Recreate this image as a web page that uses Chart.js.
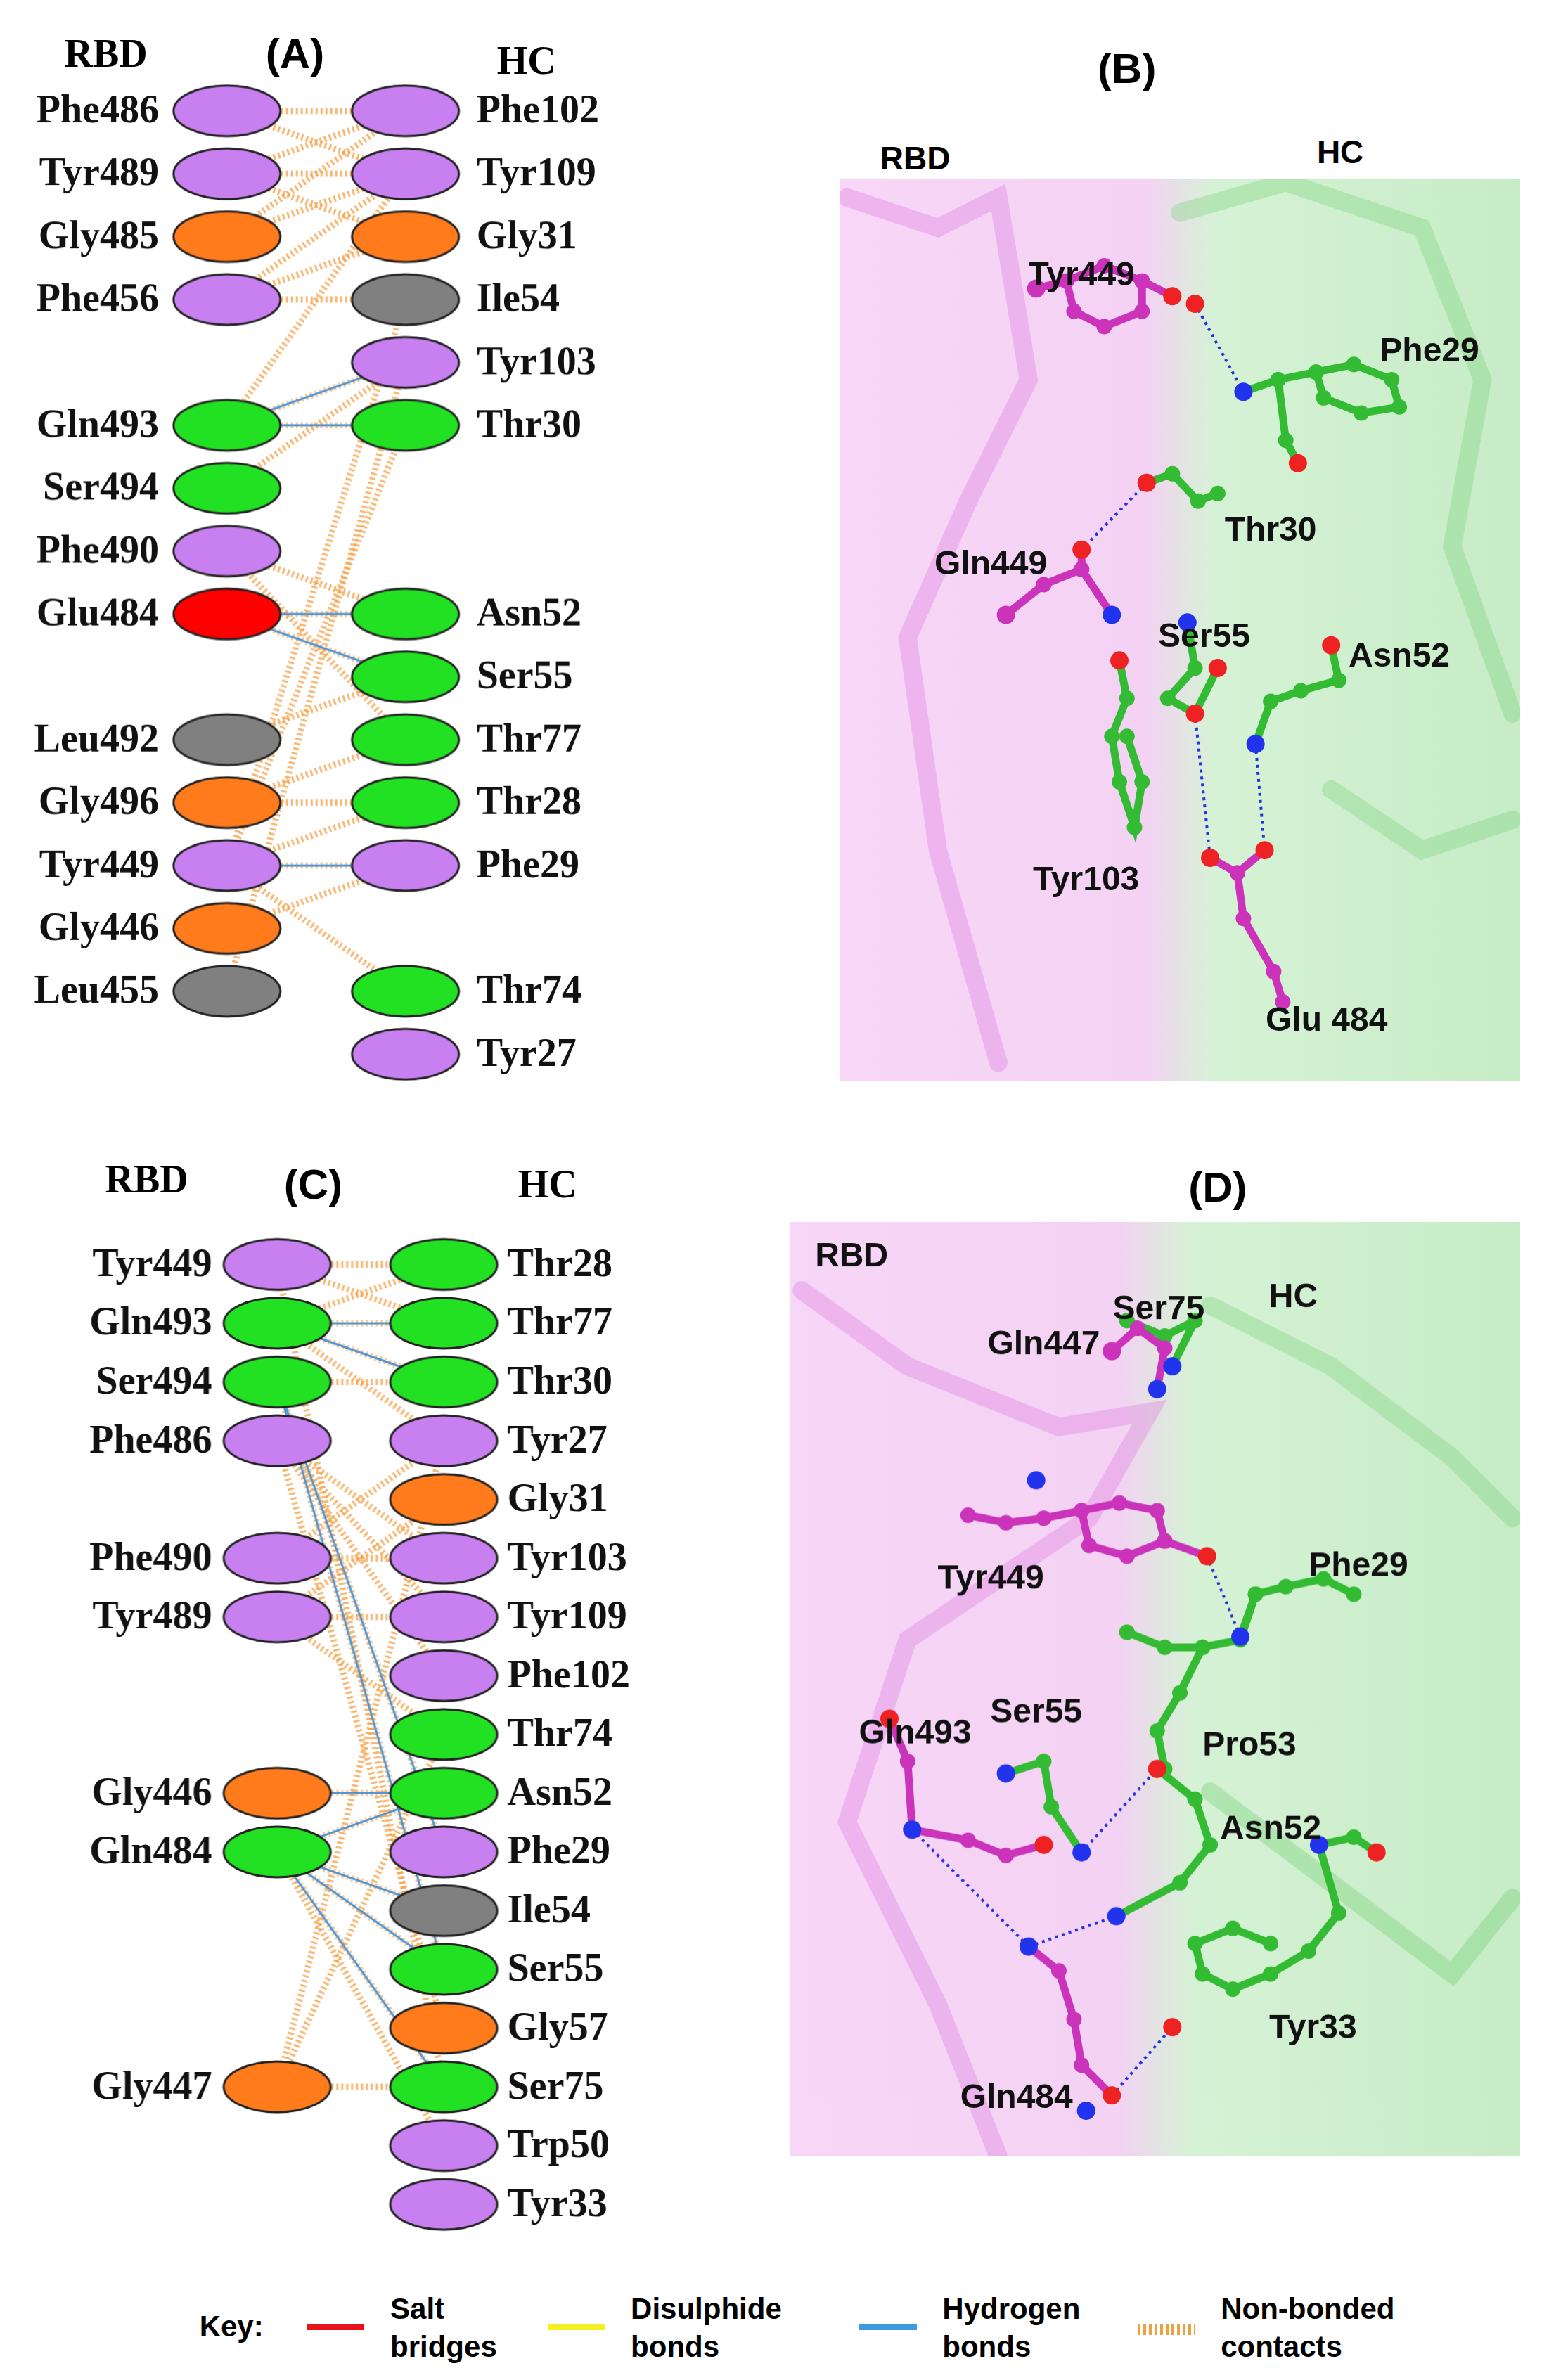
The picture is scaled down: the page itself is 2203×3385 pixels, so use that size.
<!DOCTYPE html>
<html><head><meta charset="utf-8">
<script src="https://cdn.jsdelivr.net/npm/chart.js@4/dist/chart.umd.min.js"></script>
<style>
body{margin:0;background:#fff;width:2203px;height:3385px;position:relative;overflow:hidden}
.c{position:absolute}
.t{position:absolute;font-weight:bold;white-space:nowrap}
.serif{font-family:"Liberation Serif",serif}
.sans{font-family:"Liberation Sans",Arial,sans-serif}
</style></head><body>
<script>
// ---------- DATA ----------
const colA_left  = ["Phe486","Tyr489","Gly485","Phe456","","Gln493","Ser494","Phe490","Glu484","","Leu492","Gly496","Tyr449","Gly446","Leu455"];
const colA_leftType = ["P","P","O","P","","G","G","P","R","","K","O","P","O","K"];
const colA_right = ["Phe102","Tyr109","Gly31","Ile54","Tyr103","Thr30","","","Asn52","Ser55","Thr77","Thr28","Phe29","","Thr74","Tyr27"];
const colA_rightType = ["P","P","O","K","P","G","","","G","G","G","G","P","","G","P"];
const linksA = [
 ["Phe486","Phe102","nb"],["Phe486","Tyr109","nb"],["Tyr489","Phe102","nb"],["Tyr489","Tyr109","nb"],
 ["Tyr489","Gly31","nb"],["Gly485","Phe102","nb"],["Gly485","Tyr109","nb"],["Phe456","Tyr109","nb"],
 ["Phe456","Gly31","nb"],["Gln493","Tyr109","nb"],["Gln493","Tyr103","hb"],["Gln493","Thr30","hb"],
 ["Ser494","Tyr103","nb"],["Tyr449","Ile54","nb"],["Tyr449","Thr30","nb"],["Glu484","Asn52","hb"],
 ["Glu484","Ser55","hb"],["Phe490","Thr77","nb"],["Phe490","Asn52","nb"],["Tyr449","Phe29","hb"],
 ["Tyr449","Thr28","nb"],["Tyr449","Thr74","nb"],["Gly496","Thr28","nb"],["Gly496","Thr77","nb"],
 ["Leu455","Tyr103","nb"],["Gly446","Phe29","nb"],["Leu492","Ser55","nb"],["Phe456","Ile54","nb"]
];
const colC_left  = ["Tyr449","Gln493","Ser494","Phe486","","Phe490","Tyr489","","","Gly446","Gln484","","","","Gly447"];
const colC_leftType = ["P","G","G","P","","P","P","","","O","G","","","","O"];
const colC_right = ["Thr28","Thr77","Thr30","Tyr27","Gly31","Tyr103","Tyr109","Phe102","Thr74","Asn52","Phe29","Ile54","Ser55","Gly57","Ser75","Trp50","Tyr33"];
const colC_rightType = ["G","G","G","P","O","P","P","P","G","G","P","K","G","O","G","P","P"];
const linksC = [
 ["Tyr449","Thr28","nb"],["Tyr449","Thr77","nb"],["Gln493","Thr28","nb"],["Gln493","Thr77","hb"],
 ["Gln493","Thr30","hb"],["Ser494","Thr30","nb"],["Ser494","Ser55","hb"],["Ser494","Phe29","hb"],
 ["Phe486","Tyr103","nb"],["Phe486","Tyr109","nb"],["Phe486","Phe102","nb"],["Phe490","Tyr103","nb"],
 ["Tyr489","Tyr109","nb"],["Phe490","Tyr27","nb"],["Tyr489","Gly31","nb"],["Gly446","Asn52","hb"],
 ["Gln484","Asn52","hb"],["Gln484","Ser55","hb"],["Gln484","Ser75","hb"],["Gln484","Trp50","nb"],
 ["Gly447","Ser75","nb"],["Gly447","Thr74","nb"],["Gly447","Tyr27","nb"],["Tyr449","Ser75","nb"],
 ["Tyr489","Thr74","nb"],["Phe486","Gly57","nb"],["Gln493","Tyr27","nb"],["Gln484","Ile54","hb"]
];
// molecule sketches (reference pixel coordinates within panels)
const molB = [
 {c:"#cc33bb",pts:[[685,190],[705,185],[730,175],[755,185],[755,205],[730,215],[710,205],[705,185]]},
 {c:"#cc33bb",pts:[[755,185],[775,195]]},
 {c:"#33bb33",pts:[[822,258],[845,250],[870,245],[895,240],[920,250],[925,268],[900,272],[875,262],[870,245]]},
 {c:"#33bb33",pts:[[845,250],[850,290],[858,305]]},
 {c:"#33bb33",pts:[[758,318],[775,312],[792,330],[805,325]]},
 {c:"#cc33bb",pts:[[665,405],[690,385],[715,375],[735,405]]},
 {c:"#cc33bb",pts:[[715,375],[715,362]]},
 {c:"#33bb33",pts:[[740,435],[745,460],[735,485],[740,515],[750,545],[755,515],[745,485]]},
 {c:"#33bb33",pts:[[785,410],[790,440],[772,460],[790,470],[805,440]]},
 {c:"#33bb33",pts:[[830,490],[840,462],[860,455],[885,448],[880,425]]},
 {c:"#cc33bb",pts:[[800,565],[818,575],[836,560]]},
 {c:"#cc33bb",pts:[[818,575],[822,605],[842,640],[848,660]]}
];
const atomsB = [[775,195,"r"],[790,200,"r"],[822,258,"b"],[858,305,"r"],[758,318,"r"],[715,362,"r"],[735,405,"b"],[740,435,"r"],[785,410,"b"],[805,440,"r"],[790,470,"r"],[830,490,"b"],[880,425,"r"],[800,565,"r"],[836,560,"r"],[665,405,"m"],[685,190,"m"]];
const hbB = [[[790,200],[822,258]],[[758,318],[715,362]],[[790,470],[800,565]],[[830,490],[836,560]]];
const labelsB = [["Tyr449",715,182],["Phe29",945,232],["Thr30",840,350],["Gln449",655,372],["Ser55",796,420],["Asn52",925,433],["Tyr103",718,580],["Glu 484",877,673]];
const molD = [
 {c:"#cc33bb",pts:[[735,890],[752,875],[770,888],[765,915]]},
 {c:"#33bb33",pts:[[745,870],[770,880],[790,870],[775,900]]},
 {c:"#cc33bb",pts:[[640,998],[665,1003],[690,1000],[715,995],[740,990],[765,995],[770,1015],[745,1025],[720,1018],[715,995]]},
 {c:"#cc33bb",pts:[[770,1015],[798,1025]]},
 {c:"#33bb33",pts:[[820,1078],[830,1050],[850,1045],[875,1040],[895,1050]]},
 {c:"#33bb33",pts:[[830,1050],[820,1080],[795,1085],[770,1085],[745,1075]]},
 {c:"#33bb33",pts:[[795,1085],[780,1115],[765,1140],[770,1165]]},
 {c:"#cc33bb",pts:[[588,1132],[600,1160],[603,1205],[640,1212],[665,1222],[690,1215]]},
 {c:"#33bb33",pts:[[665,1168],[690,1160],[695,1190],[715,1220]]},
 {c:"#33bb33",pts:[[765,1165],[790,1185],[800,1215],[780,1240],[738,1262]]},
 {c:"#cc33bb",pts:[[680,1282],[700,1298],[710,1330],[715,1360],[735,1380]]},
 {c:"#33bb33",pts:[[872,1215],[885,1260],[865,1285],[840,1300],[815,1310],[795,1300],[790,1280],[815,1270],[840,1280]]},
 {c:"#33bb33",pts:[[872,1215],[895,1210],[910,1220]]}
];
const atomsD = [[735,890,"m"],[765,915,"b"],[775,900,"b"],[685,975,"b"],[798,1025,"r"],[820,1078,"b"],[588,1132,"r"],[603,1205,"b"],[690,1215,"r"],[715,1220,"b"],[665,1168,"b"],[765,1165,"r"],[738,1262,"b"],[680,1282,"b"],[735,1380,"r"],[718,1390,"b"],[872,1215,"b"],[910,1220,"r"],[775,1335,"r"]];
const hbD = [[[798,1025],[820,1078]],[[715,1220],[765,1165]],[[603,1205],[680,1282]],[[680,1282],[738,1262]],[[735,1380],[775,1335]]];
const labelsD = [["Ser75",766,863],["HC",855,855],["Gln447",690,886],["Tyr449",655,1040],["Phe29",898,1032],["Ser55",685,1128],["Gln493",605,1142],["Pro53",826,1150],["Asn52",840,1205],["Tyr33",868,1336],["Gln484",672,1382],["RBD",563,828]];

// ---------- LAYOUT ----------
const SX = 2203/1024, SY = 3385/1568;
const COLORS = {P:"#c87ff0",O:"#ff7b1c",K:"#808080",G:"#22e022",R:"#ff0000"};
function ellipseImg(col){
  const c=document.createElement('canvas'); c.width=160; c.height=78;
  const g=c.getContext('2d'); g.beginPath(); g.ellipse(80,39,76,36,0,0,Math.PI*2);
  g.fillStyle=col; g.fill(); g.lineWidth=3; g.strokeStyle="#222"; g.stroke(); return c;
}
const IMG={}; for(const k in COLORS) IMG[k]=ellipseImg(COLORS[k]);

function mkCanvas(x,y,w,h){
  const d=document.createElement('div'); d.className='c';
  d.style.left=(x*SX)+'px'; d.style.top=(y*SY)+'px';
  d.style.width=(w*SX)+'px'; d.style.height=(h*SY)+'px';
  const cv=document.createElement('canvas'); d.appendChild(cv); document.body.appendChild(d); return cv;
}
function text(s,x,y,size,cls,align){
  const e=document.createElement('div'); e.className='t '+cls; e.textContent=s;
  e.style.fontSize=size+'px'; e.style.top=(y*SY)+'px';
  if(align==='r'){e.style.right=(2203-x*SX)+'px';} else if(align==='c'){e.style.left=(x*SX)+'px';e.style.transform='translate(-50%,-50%)';} else e.style.left=(x*SX)+'px';
  if(align!=='c') e.style.transform='translateY(-50%)';
  document.body.appendChild(e);
}
const hidden={display:false};
const LAYOUT={padding:0,autoPadding:false};

function network(box, L, LT, R, RT, links, xL, xR, row0, rowH, labL, labR){
  const cv=mkCanvas(...box);
  const [bx,by,bw,bh]=box, dx=xR-xL;
  const xs={type:'linear',display:false,min:(bx-xL)/dx,max:(bx+bw-xL)/dx};
  const ys={type:'linear',display:false,reverse:true,min:(by-row0)/rowH,max:(by+bh-row0)/rowH};
  const ds=[];
  const nodes=[];
  L.forEach((n,i)=>{ if(n) nodes.push({x:0,y:i,t:LT[i],n,side:'L'}); });
  R.forEach((n,i)=>{ if(n) nodes.push({x:1,y:i,t:RT[i],n,side:'R'}); });
  links.forEach(([a,b,k])=>{
    const p=[{x:0,y:L.indexOf(a)},{x:1,y:R.indexOf(b)}];
    if(k==='nb') ds.push({type:'line',data:p,borderColor:'rgba(245,160,70,0.75)',borderWidth:9,borderDash:[3,4],pointRadius:0,order:2});
    else { ds.push({type:'line',data:p,borderColor:'rgba(245,160,70,0.6)',borderWidth:9,borderDash:[3,4],pointRadius:0,order:2});
           ds.push({type:'line',data:p,borderColor:'#4f97d8',borderWidth:3,pointRadius:0,order:1}); }
  });
  ds.push({type:'scatter',data:nodes,pointStyle:c=>IMG[c.raw?c.raw.t:'P'],pointRadius:40,order:0});
  const labels={id:'lab',afterDatasetsDraw(ch){
    const g=ch.ctx; g.save(); g.font='bold 56px "Liberation Serif"'; g.fillStyle='#111'; g.textBaseline='middle';
    nodes.forEach(n=>{ const px=ch.scales.x.getPixelForValue(n.x), py=ch.scales.y.getPixelForValue(n.y);
      if(n.side==='L'){g.textAlign='right'; g.fillText(n.n,px-labL*SX,py+2);} else {g.textAlign='left'; g.fillText(n.n,px+labR*SX,py+2);} });
    g.restore(); }};
  new Chart(cv,{data:{datasets:ds},options:{responsive:true,maintainAspectRatio:false,animation:false,
    layout:LAYOUT,plugins:{legend:hidden,tooltip:{enabled:false}},scales:{x:xs,y:ys}},plugins:[labels]});
}

function molecule(box, mol, atoms, hb, labels, shapes){
  const cv=mkCanvas(...box); const [bx,by,bw,bh]=box;
  const ds=[];
  hb.forEach(p=>ds.push({type:'line',data:p.map(q=>({x:q[0],y:q[1]})),borderColor:'#2233dd',borderWidth:4,borderDash:[4,6],pointRadius:0,order:1}));
  mol.forEach(m=>ds.push({type:'line',data:m.pts.map(q=>({x:q[0],y:q[1]})),borderColor:m.c,borderWidth:11,pointRadius:11,pointBackgroundColor:m.c,pointBorderWidth:0,order:2}));
  const AC={r:'#ee2222',b:'#2233ee',m:'#cc33bb'};
  ds.push({type:'scatter',data:atoms.map(a=>({x:a[0],y:a[1]})),pointRadius:13,pointBorderWidth:0,backgroundColor:atoms.map(a=>AC[a[2]]),order:0});
  const bg={id:'bg',beforeDatasetsDraw(ch){
    const g=ch.ctx,a=ch.chartArea; g.save();
    const gr=g.createLinearGradient(a.left,0,a.right,0);
    gr.addColorStop(0,'#f7d6f7'); gr.addColorStop(0.45,'#f3d2f3'); gr.addColorStop(0.55,'#d6f2d6'); gr.addColorStop(1,'#c6ecc6');
    g.fillStyle=gr; g.fillRect(a.left,a.top,a.right-a.left,a.bottom-a.top);
    g.lineWidth=26; g.lineCap='round';
    shapes.forEach(s=>{ g.strokeStyle=s.c; g.beginPath(); s.p.forEach((q,i)=>{const X=ch.scales.x.getPixelForValue(q[0]),Y=ch.scales.y.getPixelForValue(q[1]); i?g.lineTo(X,Y):g.moveTo(X,Y);}); g.stroke();});
    g.restore();},
    afterDatasetsDraw(ch){ const g=ch.ctx; g.save(); g.font='bold 48px "Liberation Sans"'; g.fillStyle='#111'; g.textAlign='center'; g.textBaseline='middle';
      labels.forEach(l=>g.fillText(l[0],ch.scales.x.getPixelForValue(l[1]),ch.scales.y.getPixelForValue(l[2]))); g.restore(); }};
  new Chart(cv,{data:{datasets:ds},options:{responsive:true,maintainAspectRatio:false,animation:false,layout:LAYOUT,
    plugins:{legend:hidden,tooltip:{enabled:false}},
    scales:{x:{type:'linear',display:false,min:bx,max:bx+bw},y:{type:'linear',display:false,reverse:true,min:by,max:by+bh}}},plugins:[bg]});
}

// Panel A
text("RBD",70,35,56,'serif','c'); text("(A)",195,35,60,'sans','c'); text("HC",348,40,56,'serif','c');
network([0,50,430,665],colA_left,colA_leftType,colA_right,colA_rightType,linksA,150,268,73,41.4,45,47);
// Panel C
text("RBD",97,777,56,'serif','c'); text("(C)",207,780,60,'sans','c'); text("HC",362,780,56,'serif','c');
network([0,805,440,670],colC_left,colC_leftType,colC_right,colC_rightType,linksC,183,293,833,38.7,43,42);
// Panel B
text("(B)",745,45,60,'sans','c'); text("RBD",605,104,46,'sans','c'); text("HC",886,100,46,'sans','c');
molecule([555,118,450,594],molB,atomsB,hbB,labelsB,[
 {c:'rgba(220,120,220,0.35)',p:[[560,130],[620,150],[660,130],[680,250],[640,330],[600,420],[620,560],[660,700]]},
 {c:'rgba(120,210,120,0.35)',p:[[780,140],[850,120],[940,150],[980,250],[960,360],[1000,470]]},
 {c:'rgba(120,210,120,0.35)',p:[[880,520],[940,560],[1000,540]]}]);
// Panel D
text("(D)",805,782,60,'sans','c');
molecule([522,805,483,615],molD,atomsD,hbD,labelsD,[
 {c:'rgba(220,120,220,0.35)',p:[[530,850],[600,900],[700,940],[760,930],[720,1000],[600,1080],[560,1200],[620,1320],[660,1420]]},
 {c:'rgba(120,210,120,0.35)',p:[[800,860],[880,900],[960,960],[1000,1000]]},
 {c:'rgba(120,210,120,0.4)',p:[[800,1180],[880,1240],[960,1300],[1000,1250]]}]);
// Key
text("Key:",153,1533,42,'sans','c');
const key=[["Salt","bridges","#e8141c",203],["Disulphide","bonds","#f4ef22",362],["Hydrogen","bonds","#3a9be0",568],["Non-bonded","contacts","#f0a040",752]];
key.forEach(k=>{
  const l=document.createElement('div'); l.className='c';
  l.style.left=(k[3]*SX)+'px'; l.style.top=(1531*SY)+'px'; l.style.width=(38*SX)+'px'; l.style.height='9px';
  l.style.background=k[2]==="#f0a040"?'repeating-linear-gradient(90deg,#f0a040 0 4px,transparent 4px 8px)':k[2];
  if(k[2]==="#f0a040") l.style.height='16px';
  document.body.appendChild(l);
  text(k[0],k[3]+55,1521,42,'sans'); text(k[1],k[3]+55,1546,42,'sans');
});
</script>
</body></html>
